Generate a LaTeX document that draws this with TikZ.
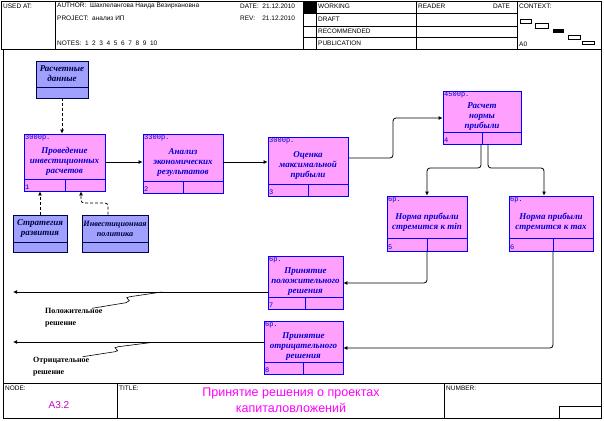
\documentclass[tikz,border=0pt]{standalone}
\usepackage{fontspec}
\setmainfont{Liberation Sans}
\newfontfamily\serf{Liberation Serif}
\newfontfamily\monof{Liberation Mono}
\usetikzlibrary{arrows.meta,fit,calc}
\definecolor{pfill}{RGB}{255,160,255}
\definecolor{pdraw}{RGB}{0,0,255}
\definecolor{ptxt}{RGB}{0,0,205}
\definecolor{lfill}{RGB}{160,160,255}
\definecolor{ldraw}{RGB}{0,0,70}
\definecolor{ltxt}{RGB}{0,0,60}
\definecolor{ttl}{RGB}{255,0,255}
\definecolor{nodec}{RGB}{200,0,200}
\tikzset{
  frame/.style={draw=black, line width=0.8pt},
  hdr/.style={font=\fontsize{6.5}{7}\selectfont, inner sep=0, anchor=west},
  pboxst/.style={draw=pdraw, fill=pfill, line width=0.8pt, inner sep=0},
  lboxst/.style={draw=ldraw, fill=lfill, line width=0.8pt, inner sep=0},
  numst/.style={font=\monof\fontsize{7}{8}\selectfont, text=ptxt, inner sep=1pt},
  costst/.style={font=\monof\fontsize{7}{8}\selectfont, text=ptxt, inner sep=1pt},
  ptext/.style={font=\serf\bfseries\itshape\fontsize{9}{10}\selectfont, text=ptxt, align=center, inner sep=0},
  ltext/.style={font=\serf\bfseries\itshape\fontsize{9}{10}\selectfont, text=ltxt, align=center, inner sep=0},
  arr/.style={line width=0.8pt, rounded corners=3pt, -{Latex[length=4pt,width=4pt]}},
  darr/.style={arr, dash pattern=on 3pt off 2pt},
  plain/.style={line width=0.8pt},
  olab/.style={font=\serf\bfseries\fontsize{8}{12}\selectfont, align=left, inner sep=0, anchor=north west},
}
\newcommand\pbox[9]{%
  \node[pboxst, fit={(#2,#3)(#4,#5)}] (#1) {};
  \draw[pdraw, line width=0.8pt] (#2,#6) -- (#4,#6) (#7,#6) -- (#7,#5);
  \node[numst, anchor=south west] at (#2,#5) {#8};
  \node[costst, anchor=north west] at (#2,#3) {#9};
  \coordinate (#1-t) at ($(#2,#3)!.5!(#4,#6)+(0,5)$);
}
\newcommand\lbox[6]{%
  \node[lboxst, fit={(#2,#3)(#4,#5)}] (#1) {};
  \draw[ldraw, line width=0.8pt] (#2,#6) -- (#4,#6);
  \coordinate (#1-t) at ($(#2,#3)!.5!(#4,#6)$);
}
\begin{document}
\begin{tikzpicture}[x=1pt,y=-1pt]
\useasboundingbox (0,0) rectangle (604,420);
\fill[white] (0,0) rectangle (604,420);
% header
\draw[frame] (1,1) rectangle (601,49);
\draw[frame] (55,1) -- (55,49) (303,1) -- (303,49) (316,1) -- (316,49)
  (416,1) -- (416,49) (517,1) -- (517,49)
  (303,13) -- (517,13) (303,26) -- (517,26) (303,37) -- (517,37);
\fill[black] (303,1) rectangle (316,13);
\node[hdr] (usedat) at (3,6) {USED AT:};
\node[hdr] (author) at (57,6) {AUTHOR:\ \ Шахпелангова Наида Везирхановна};
\node[hdr] (project) at (57,18) {PROJECT:\ \ анализ ИП};
\node[hdr] (notes) at (57,43) {NOTES:\ \ 1\ \ 2\ \ 3\ \ 4\ \ 5\ \ 6\ \ 7\ \ 8\ \ 9\ \ 10};
\node[hdr] (date) at (240,6) {DATE:\ \ 21.12.2010};
\node[hdr] (rev) at (240,18) {REV:\ \ \ \ 21.12.2010};
\node[hdr] (working) at (318,6) {WORKING};
\node[hdr] (draft) at (318,19) {DRAFT};
\node[hdr] (recom) at (318,31) {RECOMMENDED};
\node[hdr] (publ) at (318,43) {PUBLICATION};
\node[hdr] (reader) at (418,6) {READER};
\node[hdr] (rdate) at (493,6) {DATE};
\node[hdr] (context) at (519,6) {CONTEXT:};
\node[hdr] (a0) at (519,44) {A0};
\draw[plain] (520,19) rectangle (531,23) (535,23.5) rectangle (548,28)
  (568,35) rectangle (580,39) (582,41) rectangle (594,44);
\fill[black] (553,29) rectangle (564,33);
% diagram frame and footer
\draw[frame] (3,49) rectangle (601,418);
\draw[frame] (3,383) -- (601,383) (117,383) -- (117,418) (444,383) -- (444,418);
\draw[frame] (559,406) rectangle (601,418);
\node[hdr] (nodel) at (5,388) {NODE:};
\node[hdr] (titlel) at (119,388) {TITLE:};
\node[hdr] (numl) at (446,388) {NUMBER:};
\node[font=\fontsize{10}{12}\selectfont, text=nodec, inner sep=0] (nodenum) at (59,405) {A3.2};
\node[font=\fontsize{12.5}{16}\selectfont, text=ttl, align=center, inner sep=0] (title) at (291,400) {Принятие решения о проектах\\капиталовложений};
% boxes
\lbox{R}{36}{61}{88}{98}{87}
\node[ltext] (Rl) at (R-t) {Расчетные\\данные};
\lbox{S}{13}{215}{67}{252}{242}
\node[ltext] (Sl) at (S-t) {Стратегия\\развития};
\lbox{I}{82}{215}{148}{252}{242}
\node[ltext, font=\serf\bfseries\itshape\fontsize{8.2}{10}\selectfont] (Il) at (I-t) {Инвестиционная\\политика};
\pbox{b1}{24}{134}{105}{191}{179}{65}{1}{3000р.}
\node[ptext] (b1l) at (b1-t) {Проведение\\инвестиционных\\расчетов};
\pbox{b2}{143}{134}{223}{193}{181}{183}{2}{3300р.}
\node[ptext] (b2l) at (b2-t) {Анализ\\экономических\\результатов};
\pbox{b3}{268}{137}{348}{196}{184}{308}{3}{3000р.}
\node[ptext] (b3l) at (b3-t) {Оценка\\максимальной\\прибыли};
\pbox{b4}{443}{91}{521}{144}{132}{482}{4}{4500р.}
\node[ptext] (b4l) at (b4-t) {Расчет\\нормы\\прибыли};
\pbox{b5}{387}{196}{467}{251}{238}{427}{5}{6р.}
\node[ptext] (b5l) at (b5-t) {Норма прибыли\\стремится к min};
\pbox{b6}{509}{196}{593}{251}{238}{553}{6}{6р.}
\node[ptext] (b6l) at (b6-t) {Норма прибыли\\стремится к max};
\pbox{b7}{268}{256}{343}{309}{297}{305}{7}{6р.}
\node[ptext] (b7l) at (b7-t) {Принятие\\положительного\\решения};
\pbox{b8}{264}{321}{343}{374}{362}{303}{8}{6р.}
\node[ptext] (b8l) at (b8-t) {Принятие\\отрицательного\\решения};
% connectors
\coordinate (o7) at (13,292);
\coordinate (o8) at (13,342);
\draw[darr] (R.south) -- (R.south |- b1.north);
\draw[darr] (S.north) -- (S.north |- b1.south);
\draw[darr] (I.north -| 108,0) -- (108,203) -- (81,203) -- (b1.south -| 81,0);
\draw[arr] (b1.east |- 0,162) -- (b2.west |- 0,162);
\draw[arr] (b2.east |- 0,162) -- (b3.west |- 0,162);
\draw[arr] (b3.east |- 0,158) -- (393,158) -- (393,118) -- (b4.west |- 0,118);
\draw[arr] (b4.south -| 481,0) -- (481,168) -- (427,168) -- (b5.north -| 427,0);
\draw[arr] (b4.south -| 488,0) -- (488,168) -- (544,168) -- (b6.north -| 544,0);
\draw[arr] (b5.south -| 427,0) -- (427,283) -- (b7.east |- 0,283);
\draw[arr] (b6.south -| 553,0) -- (553,348) -- (b8.east |- 0,348);
\draw[arr] (b7.west |- 0,292) -- (o7);
\draw[arr] (b8.west |- 0,342) -- (o8);
% squiggles and labels
\draw[plain, line width=0.6pt] (162,292) -- (130,296.7) -- (126.7,297.7) -- (129.3,300.7) -- (126,302.7) -- (92,308.3);
\draw[plain, line width=0.6pt] (153.3,342.3) -- (118.3,346.7) -- (115,347.7) -- (117.7,350.7) -- (115,351.7) -- (82.7,356.7);
\node[olab] (pos) at (45,308) {Положительное\\решение};
\node[olab] (neg) at (33,357) {Отрицательное\\решение};
\end{tikzpicture}
\end{document}
